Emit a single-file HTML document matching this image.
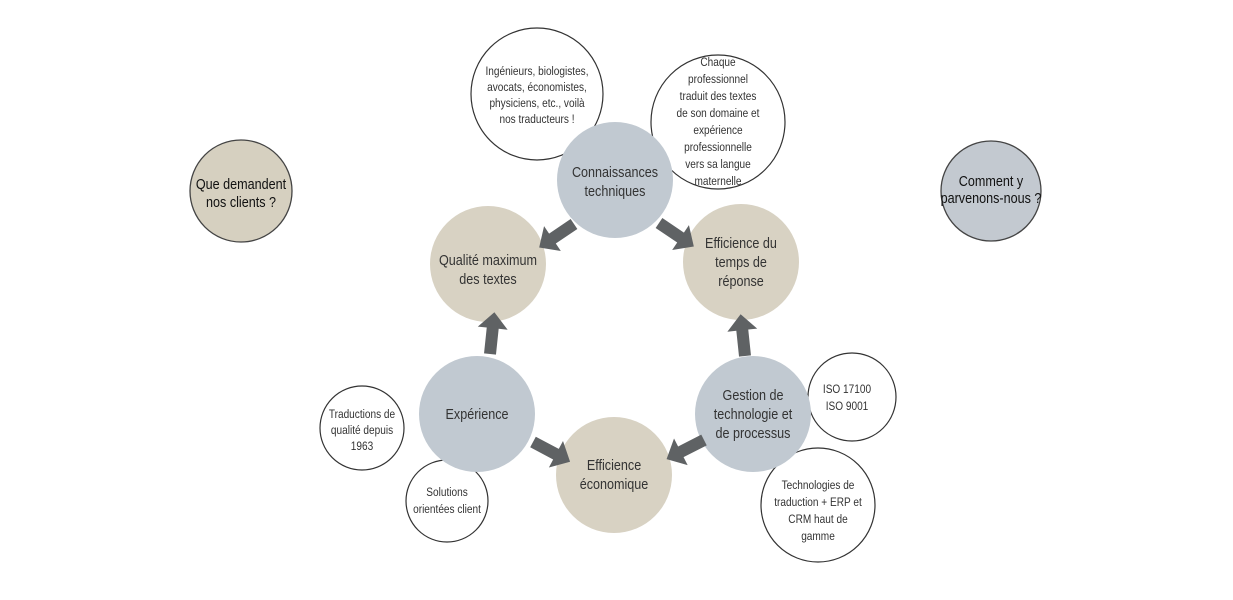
<!DOCTYPE html>
<html><head><meta charset="utf-8"><style>
html,body{margin:0;padding:0;background:#fff;}
svg{display:block;}
text{font-family:"Liberation Sans",sans-serif;fill:#333;text-anchor:middle;transform-box:fill-box;transform-origin:center;transform:scaleX(0.84);}
.m{font-size:15px;}
.s{font-size:12px;}
</style></head><body>
<svg width="1233" height="600" viewBox="0 0 1233 600">
<defs>
<polygon id="ar" points="0,-6 26,-6 26,-15 42,0 26,15 26,6 0,6" fill="#5f6264"/>
</defs>
<circle cx="241" cy="191" r="51" fill="#d6d0c0" stroke="#444" stroke-width="1.3"/>
<text class="m" x="241" y="189" style="fill:#111">Que demandent</text>
<text class="m" x="241" y="207" style="fill:#111">nos clients ?</text>
<circle cx="991" cy="191" r="50" fill="#c3c9d0" stroke="#444" stroke-width="1.3"/>
<text class="m" x="991" y="186" style="fill:#111">Comment y</text>
<text class="m" x="991" y="203" style="fill:#111">parvenons-nous ?</text>

<circle cx="537" cy="94" r="66" fill="#fff" stroke="#333" stroke-width="1.2"/>
<text class="s" x="537" y="75">Ingénieurs, biologistes,</text>
<text class="s" x="537" y="91">avocats, économistes,</text>
<text class="s" x="537" y="107">physiciens, etc., voilà</text>
<text class="s" x="537" y="123">nos traducteurs !</text>
<circle cx="718" cy="122" r="67" fill="#fff" stroke="#333" stroke-width="1.2"/>
<text class="s" x="718" y="66">Chaque</text>
<text class="s" x="718" y="83">professionnel</text>
<text class="s" x="718" y="100">traduit des textes</text>
<text class="s" x="718" y="117">de son domaine et</text>
<text class="s" x="718" y="134">expérience</text>
<text class="s" x="718" y="151">professionnelle</text>
<text class="s" x="718" y="168">vers sa langue</text>
<text class="s" x="718" y="185">maternelle</text>
<circle cx="362" cy="428" r="42" fill="#fff" stroke="#333" stroke-width="1.2"/>
<text class="s" x="362" y="418">Traductions de</text>
<text class="s" x="362" y="434">qualité depuis</text>
<text class="s" x="362" y="450">1963</text>
<circle cx="447" cy="501" r="41" fill="#fff" stroke="#333" stroke-width="1.2"/>
<text class="s" x="447" y="496">Solutions</text>
<text class="s" x="447" y="513">orientées client</text>
<circle cx="852" cy="397" r="44" fill="#fff" stroke="#333" stroke-width="1.2"/>
<text class="s" x="847" y="393">ISO 17100</text>
<text class="s" x="847" y="410">ISO 9001</text>
<circle cx="818" cy="505" r="57" fill="#fff" stroke="#333" stroke-width="1.2"/>
<text class="s" x="818" y="489">Technologies de</text>
<text class="s" x="818" y="506">traduction + ERP et</text>
<text class="s" x="818" y="523">CRM haut de</text>
<text class="s" x="818" y="540">gamme</text>

<circle cx="615" cy="180" r="58" fill="#c1c9d1"/>
<text class="m" x="615" y="177">Connaissances</text>
<text class="m" x="615" y="196">techniques</text>
<circle cx="488" cy="264" r="58" fill="#d8d2c3"/>
<text class="m" x="488" y="265">Qualité maximum</text>
<text class="m" x="488" y="284">des textes</text>
<circle cx="741" cy="262" r="58" fill="#d8d2c3"/>
<text class="m" x="741" y="248">Efficience du</text>
<text class="m" x="741" y="267">temps de</text>
<text class="m" x="741" y="286">réponse</text>
<circle cx="477" cy="414" r="58" fill="#c1c9d1"/>
<text class="m" x="477" y="419">Expérience</text>
<circle cx="614" cy="475" r="58" fill="#d8d2c3"/>
<text class="m" x="614" y="470">Efficience</text>
<text class="m" x="614" y="489">économique</text>
<circle cx="753" cy="414" r="58" fill="#c1c9d1"/>
<text class="m" x="753" y="400">Gestion de</text>
<text class="m" x="753" y="419">technologie et</text>
<text class="m" x="753" y="438">de processus</text>

<use href="#ar" transform="translate(574,224) rotate(146)"/>
<use href="#ar" transform="translate(659,223) rotate(34)"/>
<use href="#ar" transform="translate(490,354) rotate(-84)"/>
<use href="#ar" transform="translate(745,356) rotate(-96)"/>
<use href="#ar" transform="translate(533,442) rotate(28)"/>
<use href="#ar" transform="translate(704,440) rotate(153)"/>
</svg>
</body></html>
